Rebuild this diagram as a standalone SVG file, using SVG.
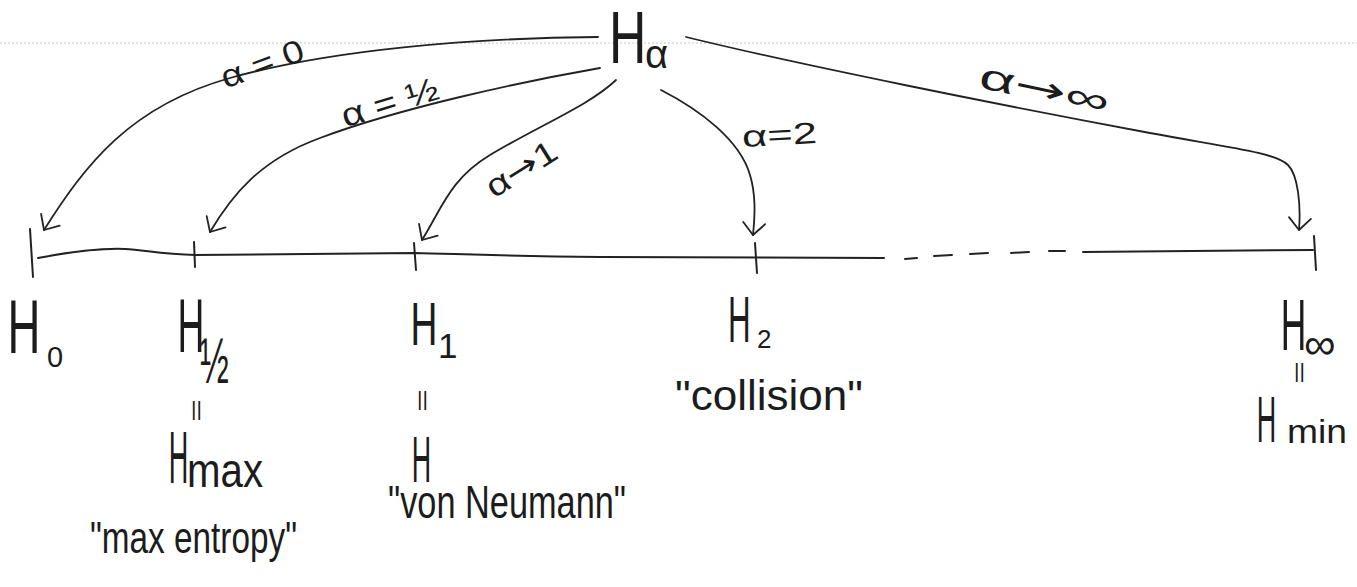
<svg xmlns="http://www.w3.org/2000/svg" width="1357" height="587" viewBox="0 0 1357 587">
<style>
.t{font-family:"Liberation Sans",Arial,sans-serif;fill:#1c1c1c;}
.ar{font-family:"DejaVu Sans",sans-serif;}
.eq{font-family:"Liberation Sans",Arial,sans-serif;fill:#1c1c1c;font-size:21px;}
.c{fill:none;stroke:#222;stroke-width:1.8;stroke-linecap:round;stroke-linejoin:round;}
.rule{fill:none;stroke:#c4c4c4;stroke-width:1;stroke-dasharray:2 2;}
.ax{fill:none;stroke:#222;stroke-width:2;stroke-linecap:round;}
</style>
<defs>
<marker id="arr" markerUnits="userSpaceOnUse" markerWidth="30" markerHeight="30" refX="0" refY="0" viewBox="-15 -15 30 30" orient="auto" overflow="visible">
<path d="M-12,-11 L0,0 L-12,11" fill="none" stroke="#222" stroke-width="1.8" stroke-linecap="round" stroke-linejoin="round"/>
</marker>
</defs>
<rect width="1357" height="587" fill="#fff"/>
<line class="rule" x1="0" y1="43" x2="1357" y2="43"/>

<g id="axis">
<path class="ax" d="M38,258 C70,252 100,248 125,249 C145,250 160,254 195,255 L415,253 C460,254 500,256 600,257 L884,258"/>
<path class="ax" d="M905,259 L917,258 M934,256 L952,255 M970,254 L988,253 M1011,253 L1029,252 M1049,251 L1065,251"/>
<path class="ax" d="M1083,252 L1313,250"/>
<path class="ax" d="M30,229 L33,277 M194,242 L195,267 M414,243 L416,270 M755,243 L757,273 M1314,236 L1316,270"/>
</g>

<g id="connectors">
<g id="e-alpha0">
<path class="c" marker-end="url(#arr)" d="M598,37 C470,38 330,50 230,78 C130,106 85,165 44,230"/>
<text class="t" font-size="32" text-anchor="middle" textLength="86" lengthAdjust="spacingAndGlyphs" transform="translate(266,74) rotate(-20)">α = 0</text>
</g>
<g id="e-alphahalf">
<path class="c" marker-end="url(#arr)" d="M600,68 C520,82 400,108 320,138 C260,160 232,195 210,232"/>
<text class="t" font-size="33" text-anchor="middle" textLength="100" lengthAdjust="spacingAndGlyphs" transform="translate(393,113) rotate(-17)">α = ½</text>
</g>
<g id="e-alpha1">
<path class="c" marker-end="url(#arr)" d="M616,80 C590,105 540,125 490,155 C450,179 442,208 422,240"/>
<text class="t" font-size="32" text-anchor="middle" textLength="78" lengthAdjust="spacingAndGlyphs" transform="translate(527,178) rotate(-32)">α<tspan class="ar">→</tspan>1</text>
</g>
<g id="e-alpha2">
<path class="c" marker-end="url(#arr)" d="M661,90 C700,110 740,140 750,175 C756,195 755,215 753,235"/>
<text class="t" font-size="30" text-anchor="middle" textLength="75" lengthAdjust="spacingAndGlyphs" transform="translate(780,145) rotate(-3)">α=2</text>
</g>
<g id="e-alphainf">
<path class="c" marker-end="url(#arr)" d="M686,37 C800,65 1000,105 1150,133 C1225,147 1275,152 1288,165 C1298,175 1301,205 1299,230"/>
<text class="t" font-size="36" text-anchor="middle" textLength="132" lengthAdjust="spacingAndGlyphs" transform="translate(1042,101) rotate(12)">α<tspan class="ar">→</tspan>∞</text>
</g>
</g>

<g id="n-Halpha">
<text class="t" font-size="74" transform="translate(609,63) scale(0.7,1)">H</text>
<text class="t" font-size="40" x="645" y="68">α</text>
</g>

<g id="n-H0">
<text class="t" font-size="76" transform="translate(7.5,353) scale(0.6,1)">H</text>
<text class="t" font-size="29" x="47" y="367">0</text>
</g>

<g id="n-Hhalf">
<text class="t" font-size="76" transform="translate(177.5,352) scale(0.49,1)">H</text>
<text class="t" font-size="46" transform="translate(200,383) scale(0.75,1.4)">½</text>
<text class="eq" x="191" y="416">||</text>
<text class="t" font-size="74" transform="translate(168.8,483) scale(0.365,1)">H</text>
<text class="t" font-size="48" x="187" y="487" textLength="76" lengthAdjust="spacingAndGlyphs">max</text>
<text class="t" font-size="44" x="90" y="553" textLength="207" lengthAdjust="spacingAndGlyphs">"max entropy"</text>
</g>

<g id="n-H1">
<text class="t" font-size="61" transform="translate(410.5,345) scale(0.61,1)">H</text>
<text class="t" font-size="35" x="438" y="358">1</text>
<text class="eq" x="417" y="406">||</text>
<text class="t" font-size="64" transform="translate(411.8,482) scale(0.42,1)">H</text>
<text class="t" font-size="46" x="388" y="518" textLength="238" lengthAdjust="spacingAndGlyphs">"von Neumann"</text>
</g>

<g id="n-H2">
<text class="t" font-size="64" transform="translate(728,342) scale(0.49,1)">H</text>
<text class="t" font-size="26" x="757" y="348">2</text>
<text class="t" font-size="42" x="675" y="410" textLength="188" lengthAdjust="spacingAndGlyphs">"collision"</text>
</g>

<g id="n-Hinf">
<text class="t" font-size="73" transform="translate(1280.8,350) scale(0.485,1)">H</text>
<text class="t" font-size="44" x="1304" y="359">∞</text>
<text class="eq" x="1294" y="378">||</text>
<text class="t" font-size="65" transform="translate(1256.8,442) scale(0.415,1)">H</text>
<text class="t" font-size="34" x="1287" y="443" textLength="60" lengthAdjust="spacingAndGlyphs">min</text>
</g>
</svg>
